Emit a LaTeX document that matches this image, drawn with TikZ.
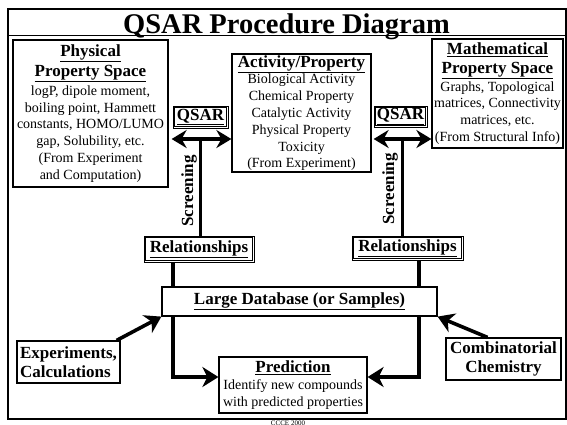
\documentclass[tikz,border=0pt]{standalone}
\usepackage{fontspec}
\setmainfont{Liberation Serif}
\usetikzlibrary{arrows.meta,calc}
\newcommand{\hdf}{\fontsize{17}{19}\selectfont\bfseries}
\newcommand{\bdf}{\fontsize{14}{16.8}\selectfont}
\newcommand{\hul}[1]{\underline{#1}}
\begin{document}
\begin{tikzpicture}[x=1pt,y=-1pt,
  box/.style={draw, line width=1.2pt, fill=white, rectangle, inner sep=0pt, align=center, font=\bdf},
  dbox/.style={draw, line width=0.8pt, fill=white, inner sep=0pt, font=\hdf},
  inner/.style={line width=0.7pt},
  flow/.style={line width=3.6pt},
  tip/.style={-{Stealth[length=16pt,width=20pt,inset=5pt]}},
  tips/.style={{Stealth[length=15pt,width=18pt,inset=5pt]}-{Stealth[length=15pt,width=18pt,inset=5pt]}}
]
\clip (0,0) rectangle (567,424);
\useasboundingbox (0,0) rectangle (567,424);
% frame
\draw[line width=2pt] (7.5,9) rectangle (566,419);
\draw[line width=1.5pt] (7.5,35.5) -- (566,35.5);
\node[font=\fontsize{28.5}{30}\selectfont\bfseries, anchor=base, inner sep=0pt] (title) at (286.5,33) {QSAR Procedure Diagram};
\node[font=\fontsize{7}{8}\selectfont, anchor=north, inner sep=0pt] (foot) at (288,420.5) {CCCE 2000};

% boxes
\node[box, minimum width=155pt, minimum height=147pt] (phys) at (90.5,113.5)
  {{\hdf\hul{Physical}}\\[2pt]{\hdf\hul{Property Space}}\\[2pt]logP, dipole moment,\\boiling point, Hammett\\constants, HOMO/LUMO\\gap, Solubility, etc.\\(From Experiment\\and Computation)};
\node[box, minimum width=139pt, minimum height=118pt] (act) at (301.5,113)
  {{\hdf\hul{Activity/Property}}\\Biological Activity\\Chemical Property\\Catalytic Activity\\Physical Property\\Toxicity\\(From Experiment)};
\node[box, minimum width=131pt, minimum height=109pt] (math) at (497.5,93.5)
  {{\hdf\hul{Mathematical}}\\[2pt]{\hdf\hul{Property Space}}\\[1pt]Graphs, Topological\\matrices, Connectivity\\matrices, etc.\\(From Structural Info)};
\node[dbox, minimum width=55pt, minimum height=22pt] (qL) at (200.5,117) {\hul{QSAR}};
\node[dbox, minimum width=53pt, minimum height=21pt] (qR) at (400.5,116.5) {\hul{QSAR}};
\node[dbox, minimum width=110pt, minimum height=26pt] (relL) at (199,249) {\hul{Relationships}};
\node[dbox, minimum width=111pt, minimum height=24pt] (relR) at (407.5,248) {\hul{Relationships}};
\foreach \n in {qL,qR,relL,relR}
  \draw[inner] ($(\n.south west)+(2,-2)$) rectangle ($(\n.north east)+(-2,2)$);
\node[box, font=\hdf, minimum width=275pt, minimum height=29pt] (db) at (299.5,301.5) {\hul{Large Database (or Samples)}};
\node[box, minimum width=148pt, minimum height=56pt] (pred) at (293,385)
  {{\hdf\hul{Prediction}}\\Identify new compounds\\with predicted properties};
\node[box, font=\hdf, align=left, minimum width=103pt, minimum height=42pt] (exp) at (68.5,362)
  {Experiments,\\Calculations};
\node[box, font=\hdf, minimum width=115pt, minimum height=42pt] (comb) at (503.5,359)
  {Combinatorial\\Chemistry};
\node[rotate=90, font=\hdf, inner sep=0pt] (scrL) at (189,191) {Screening};
\node[rotate=90, font=\hdf, inner sep=0pt] (scrR) at (390,189) {Screening};

% coordinates
\coordinate (jL) at (200.5,139);
\coordinate (jR) at (402.5,139);
\coordinate (xL) at (173,301);
\coordinate (xR) at (419,301);
\coordinate (yP) at (293,377);

% connectors
\draw[flow, tips] ($(phys.east |- jL)+(3,0)$) -- (act.west |- jL);
\draw[flow, tips] ($(act.east |- jR)+(2,0)$) -- (math.west |- jR);
\draw[flow] (relL.north -| jL) -- (jL);
\draw[flow] (relR.north -| jR) -- (jR);
\draw[flow] (relL.south -| xL) -- (db.north -| xL);
\draw[flow] (relR.south -| xR) -- (db.north -| xR);
\draw[flow, tip] (db.south -| xL) -- (xL |- yP) -- (pred.west |- yP);
\draw[flow, tip] (db.south -| xR) -- (xR |- yP) -- (pred.east |- yP);
\draw[flow, tip] ($(exp.north east)+(-4,0)$) -- (db.south west);
\draw[flow, tip] ($(comb.north)+(-16,0)$) -- (db.south east);
\end{tikzpicture}
\end{document}
